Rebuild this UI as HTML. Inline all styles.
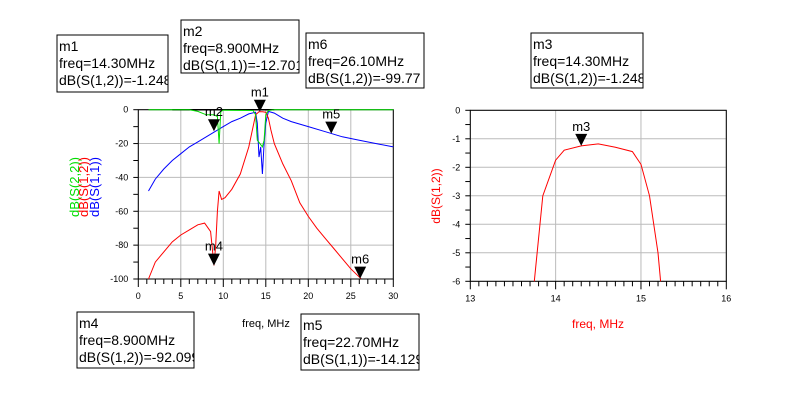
<!DOCTYPE html>
<html><head><meta charset="utf-8"><style>
body{margin:0;background:#fff;}
svg{display:block;font-family:"Liberation Sans",sans-serif;}
.box{fill:#fff;stroke:#000;stroke-width:1;}
.bt{font-size:14px;fill:#000;}
.tk{font-size:9px;fill:#000;}
</style></head><body>
<svg id="c" width="791" height="411" viewBox="0 0 791 411">
<g id="L"></g>
<g id="R"></g>
<g id="boxes"></g>
</svg>
<script>
const NS='http://www.w3.org/2000/svg';
// Left plot data
const s12F=[1.2,2,3,4,5,6,7,7.8,8.5,8.9,9.1,9.3,9.5,9.8,10.2,11,12,13,13.5,13.8,14.2,14.6,15,15.3,15.6,16,17,18,19,20,21,22,23,24,25,26.2];
const s12V=[-100,-90,-84,-78,-74,-71,-68,-67,-72,-92,-80,-60,-48,-53,-52,-47,-38,-22,-10,-3,-1.2,-1.2,-1.5,-5,-12,-20,-32,-42,-55,-63,-70,-76,-82,-88,-94,-99.8];
const s11F=[1.2,2,3,4,5,6,7,8,9,10,11,12,13,13.8,14,14.2,14.4,14.6,14.8,15,15.3,16,17,18,20,22,24,26,28,30];
const s11V=[-48,-41,-35,-30,-26,-22,-19,-16,-13,-10,-7,-5,-2.5,-1.5,-8,-28,-22,-38,-20,-8,-1,-2,-5,-7,-10,-13,-16,-18,-20,-22];
const s22F=[1.2,6,7,8,8.9,9.3,9.5,9.7,10,13.5,13.8,14,14.3,14.6,14.8,15,15.3,16,30];
const s22V=[0,0,-1,-3,-3,-4,-20,-1,-0.3,-0.5,-3,-18,-20,-22,-18,-3,-0.5,0,0];
const xTicksL=[0,5,10,15,20,25,30];
const yTicksL=[0,-20,-40,-60,-80,-100];
// Right plot data
const zF=[13.75,13.85,14,14.1,14.3,14.5,14.7,14.9,15,15.1,15.2,15.23];
const zV=[-6,-3,-1.75,-1.4,-1.25,-1.18,-1.3,-1.45,-1.9,-3,-5,-6];
const xTicksR=[13,14,15,16];
const yTicksR=[0,-1,-2,-3,-4,-5,-6];

function el(p,t,a,txt){const e=document.createElementNS(NS,t);for(const k in a)e.setAttribute(k,a[k]);if(txt!==undefined)e.textContent=txt;p.appendChild(e);return e;}
function plot(g,x0,x1,px0,px1,y0,y1,py0,py1,xt,yt,minorX,minorY){
  const sx=v=>px0+(v-x0)/(x1-x0)*(px1-px0);
  const sy=v=>py0+(v-y0)/(y1-y0)*(py1-py0);
  xt.forEach(v=>{const l=el(g,'line',{x1:sx(v),x2:sx(v),y1:py0,y2:py1,stroke:'#bbb'});
    const t=el(g,'text',{x:sx(v),y:py1+20,'text-anchor':'middle',class:'tk'},String(v));});
  yt.forEach(v=>{const l=el(g,'line',{x1:px0,x2:px1,y1:sy(v),y2:sy(v),stroke:'#bbb'});
    const t=el(g,'text',{x:px0-10,y:sy(v)+3,'text-anchor':'end',class:'tk'},String(v));});
  for(let v=x0;v<=x1+1e-9;v+=minorX){el(g,'line',{x1:sx(v),x2:sx(v),y1:py1,y2:py1+(Math.abs((v-x0)%(xt[1]-xt[0]))<1e-6||Math.abs((v-x0)%(xt[1]-xt[0])-(xt[1]-xt[0]))<1e-6?8:5),stroke:'#000'});}
  for(let v=y0;v>=y1-1e-9;v-=minorY){el(g,'line',{x1:px0-5,x2:px0,y1:sy(v),y2:sy(v),stroke:'#000'});}
  el(g,'rect',{x:px0,y:py0,width:px1-px0,height:py1-py0,fill:'none',stroke:'#000'});
  return {sx,sy};
}
function line(g,a,F,V,col,name){const d=F.map((f,i)=>(i?'L':'M')+a.sx(f).toFixed(1)+','+a.sy(V[i]).toFixed(1)).join('');const p=el(g,'path',{d,fill:'none',stroke:col,'stroke-width':1});}
function marker(g,x,y,lab){const p=el(g,'path',{d:`M${x-6},${y-12}L${x+6},${y-12}L${x},${y}Z`,fill:'#000'});
  const t=el(g,'text',{x:x,y:y-15,'text-anchor':'middle','font-size':'13px'},lab);}

const L=document.getElementById('L');
const a=plot(L,0,30,138.3,393.3,0,-100,109.7,279,xTicksL,yTicksL,1,10);
el(L,'line',{x1:a.sx(4),x2:a.sx(16),y1:a.sy(0),y2:a.sy(0),stroke:'#000','stroke-width':1.5});
line(L,a,s11F,s11V,'#0000ff','series-s11');
line(L,a,s12F,s12V,'#ff0000','series-s12');
line(L,a,s22F,s22V,'#00dd00','series-s22');
marker(L,a.sx(14.3),a.sy(-1.2),'m1');
marker(L,a.sx(8.9),a.sy(-12.7),'m2');
marker(L,a.sx(8.9),a.sy(-92.1),'m4');
marker(L,a.sx(22.7),a.sy(-14.1),'m5');
marker(L,a.sx(26.1),a.sy(-99.8),'m6');
let t=el(L,'text',{x:266,y:327,'text-anchor':'middle','font-size':'11px'},'freq, MHz');
[['dB(S(2,2))','#00dd00',79],['dB(S(1,2))','#ff0000',88],['dB(S(1,1))','#0000ff',99]].forEach(([s,c,x])=>{const e=el(L,'text',{x:x,y:187,fill:c,'font-size':'13px','text-anchor':'middle',transform:`rotate(-90 ${x} 187)`},s);});

const R=document.getElementById('R');
const b=plot(R,13,16,470.3,726.3,0,-6,110.3,281.3,xTicksR,yTicksR,0.1,0.5);
line(R,b,zF,zV,'#ff0000','series-s12-zoom');
marker(R,b.sx(14.3),b.sy(-1.25),'m3');
t=el(R,'text',{x:598,y:328,'text-anchor':'middle','font-size':'12px',fill:'#ff0000'},'freq, MHz');
t=el(R,'text',{x:440,y:196,'text-anchor':'middle','font-size':'12px',fill:'#ff0000',transform:'rotate(-90 440 196)'},'dB(S(1,2))');

const B=document.getElementById('boxes');
const boxes=[[57,35,111,57,'m1','freq=14.30MHz','dB(S(1,2))=-1.248'],[181,20,118,53,'m2','freq=8.900MHz','dB(S(1,1))=-12.701'],[306,33,118,55,'m6','freq=26.10MHz','dB(S(1,2))=-99.77'],[77,312,117,56,'m4','freq=8.900MHz','dB(S(1,2))=-92.099'],[301,314,118,56,'m5','freq=22.70MHz','dB(S(1,1))=-14.129'],[531,33,112,55,'m3','freq=14.30MHz','dB(S(1,2))=-1.248']];
boxes.forEach((bx,i)=>{const [x,y,w,h,n,f,v]=bx;
  const g=el(B,'g',{});
  el(g,'clipPath',{id:'cp'+i}).appendChild(document.createElementNS(NS,'rect'));
  const cr=g.querySelector('clipPath rect');cr.setAttribute('x',x);cr.setAttribute('y',y);cr.setAttribute('width',w);cr.setAttribute('height',h);
  el(g,'rect',{x,y,width:w,height:h,class:'box'});
  const tg=el(g,'g',{'clip-path':`url(#cp${i})`});
  [n,f,v].forEach((s,j)=>el(tg,'text',{x:x+2,y:y+16+j*17,class:'bt'},s));
});
</script>
</body></html>
